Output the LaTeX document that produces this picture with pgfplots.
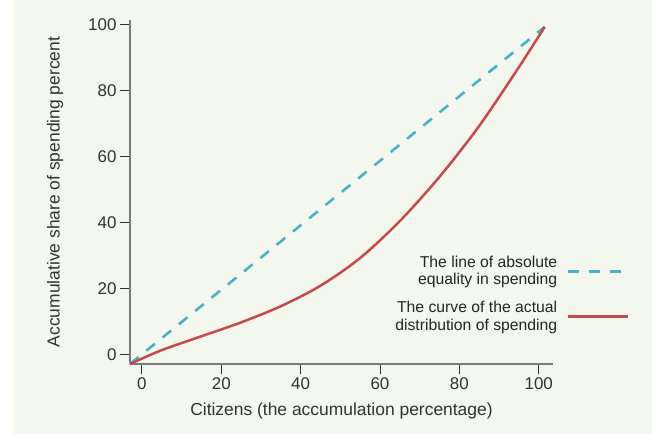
\documentclass[border=0pt]{standalone}
\usepackage{pgfplots}
\pgfplotsset{compat=1.18}
\usepackage{fontspec}
\setmainfont{Liberation Sans}

\definecolor{bg}{HTML}{F3F7EE}
\definecolor{eqblue}{HTML}{4AB0CC}
\definecolor{curvered}{HTML}{C64A4C}
\definecolor{axisgrey}{HTML}{7A7A78}
\definecolor{txt}{HTML}{333333}

\begin{document}
\begin{tikzpicture}
% page background: white strip on the left, tinted panel
\fill[white] (0,0) rectangle (652bp,434bp);
\fill[bg] (13bp,0) rectangle (652bp,434bp);
\useasboundingbox (0,0) rectangle (652bp,434bp);

\begin{axis}[
    at={(130bp,70bp)}, anchor=south west,
    scale only axis,
    width=423bp, height=344bp,
    xmin=-3, xmax=103.6,
    ymin=-2.9, ymax=101.3,
    clip=false,
    axis lines=left,
    axis line style={-, axisgrey, line width=1.6bp},
    xtick={0,20,...,100},
    ytick={0,20,...,100},
    tick align=outside,
    major tick length=10bp,
    tick style={black!80, line width=0.9bp},
    /pgf/number format/assume math mode=true,
    ticklabel style={font=\fontsize{17}{20}\selectfont, text=txt},
    xlabel={Citizens (the accumulation percentage)},
    ylabel={Accumulative share of spending percent},
    label style={font=\fontsize{17.5}{20}\selectfont, text=txt},
    xlabel style={at={(axis description cs:0.5,-0.137)}, anchor=center},
    ylabel style={at={(axis description cs:-0.177,0.5)}, anchor=center},
    legend style={at={(axis description cs:1.182,0.2035)}, anchor=east,
        draw=none, fill=none, inner sep=0pt,
        font=\fontsize{15.8}{17.5}\selectfont, text=black!85,
        row sep=15bp, column sep=10bp,
        cells={align=right},
        nodes={inner sep=0pt}},
    legend cell align=right,
    legend plot pos=right,
    legend image code/.code={\draw[#1] (0bp,0bp) -- (60bp,0bp);},
]

% line of absolute equality
\addplot[eqblue, line width=2.6bp, dash pattern=on 11bp off 10bp]
    coordinates {(-3,-2.9) (101.5,99.2)};
\addlegendentry{The line of absolute\\equality in spending}

% actual distribution (Lorenz curve)
\addplot[curvered, line width=2.5bp, smooth]
    coordinates {
    (-3,-2.9) (5,1.3) (15,5.5) (25,9.7) (35,14.6) (45,20.8)
    (55,29.2) (65,40.4) (75,53.8) (85,69.2) (95,87.0) (101.5,99.2)
    };
\addlegendentry{The curve of the actual\\distribution of spending}

\end{axis}
\end{tikzpicture}
\end{document}
